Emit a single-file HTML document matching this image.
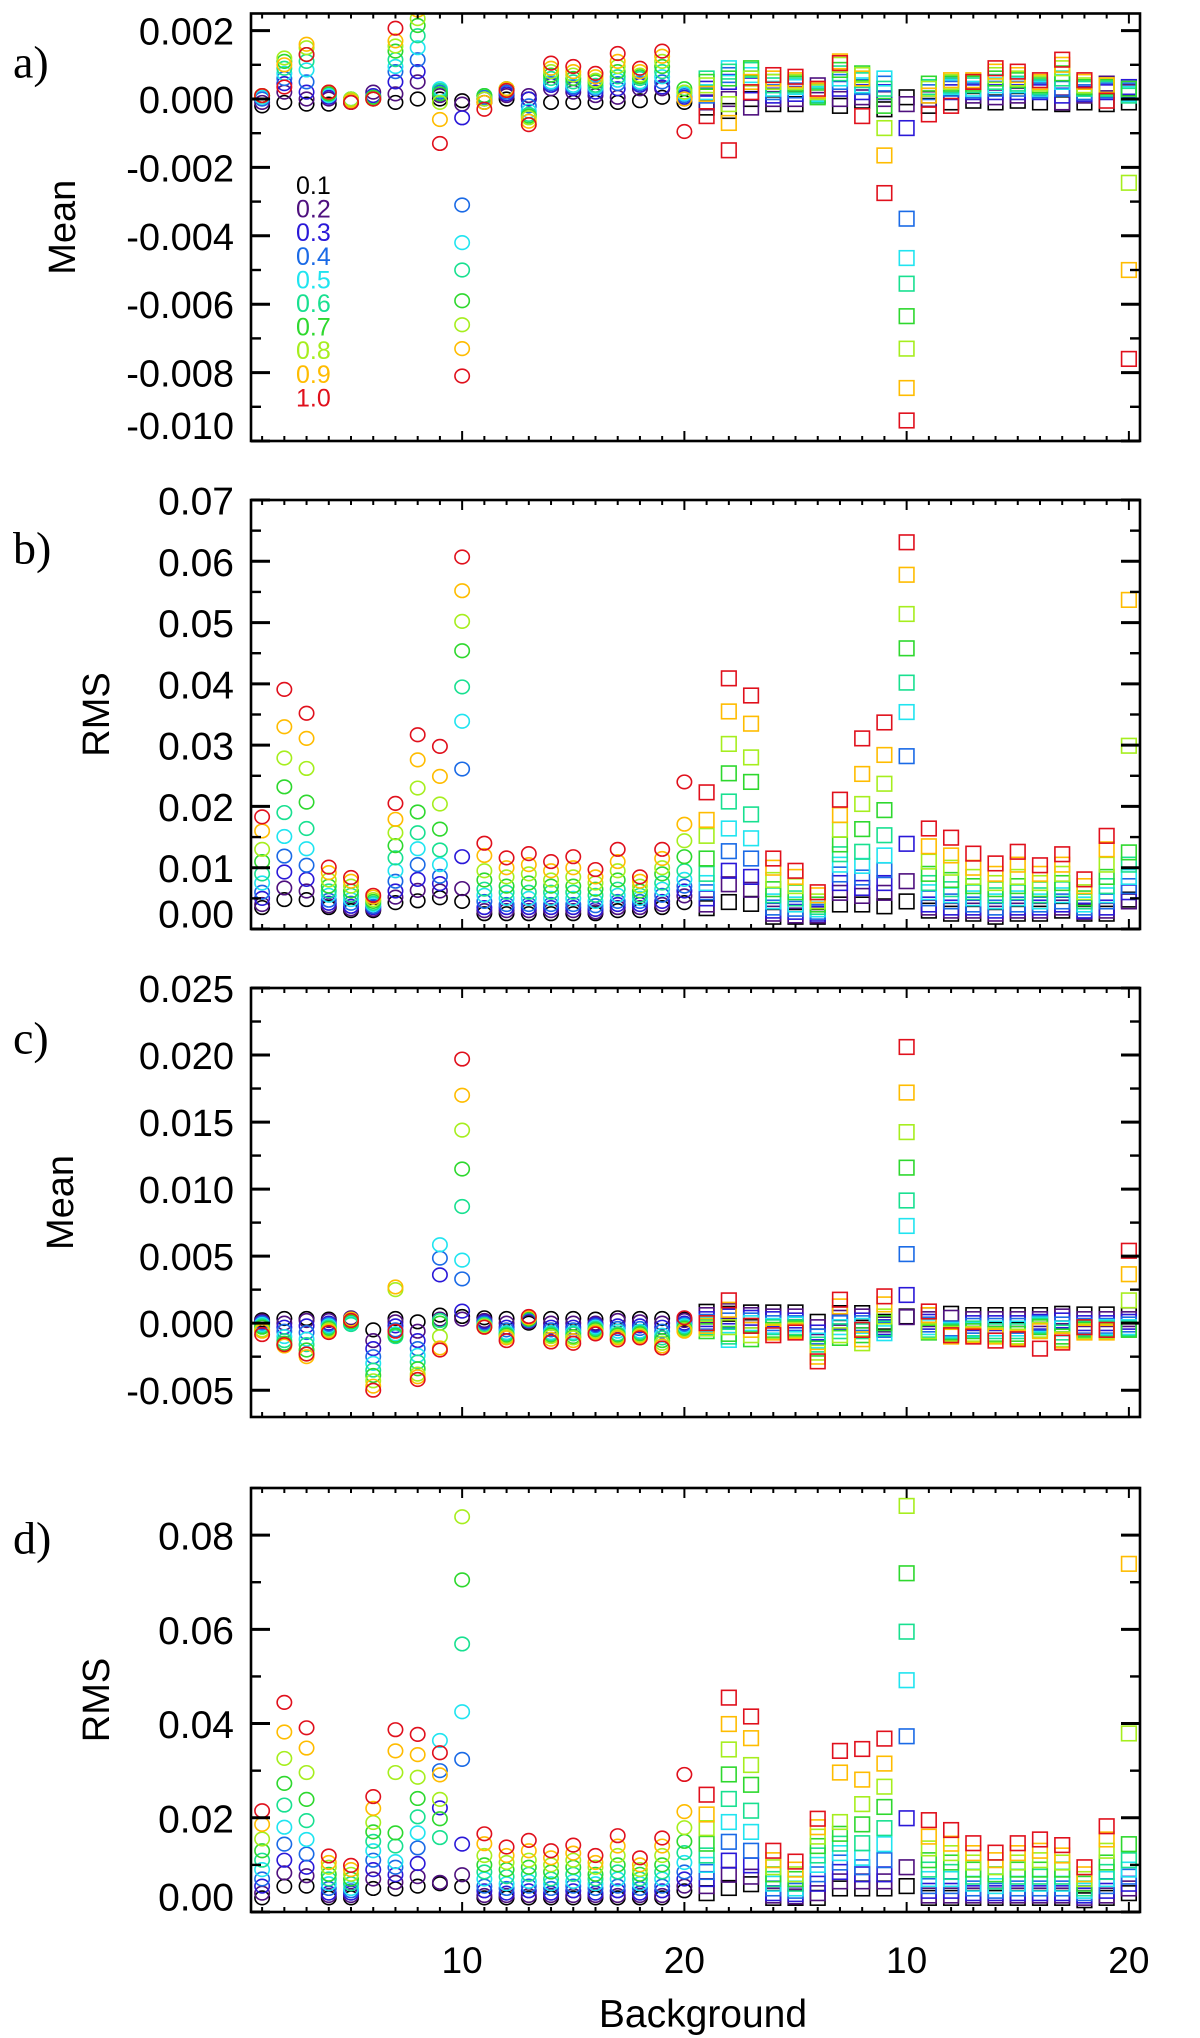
<!DOCTYPE html>
<html><head><meta charset="utf-8"><style>
html,body{margin:0;padding:0;background:#fff;}
svg{display:block;}
text{font-family:"Liberation Sans",Arial,sans-serif;}
.serif{font-family:"Liberation Serif","Times New Roman",serif;}
</style></head><body>
<svg id="chart" width="1200" height="2038" viewBox="0 0 1200 2038" xmlns="http://www.w3.org/2000/svg"></svg>
<script>
// ---- data ----
const levels = ["0.1","0.2","0.3","0.4","0.5","0.6","0.7","0.8","0.9","1.0"];
const levelColors = ["#000000","#4e107e","#2a18d8","#1a6ae6","#20e4f0","#18e090","#2ed82e","#a6ee1e","#ffbc00","#e0101c"];
const xTickLabels = ["10","20","10","20"];
const xTickValues = [10,20,30,40];
// panel a: Mean (units 0.001), rows = x index 1..40, cols = levels
const meanA = [
[-0.2,-0.1,0,0,0.05,0.1,0.1,0.1,0.1,0.1],
[-0.1,0.2,0.45,0.6,0.75,0.9,1.1,1.2,1.0,0.35],
[-0.15,0,0.2,0.5,0.85,1.1,1.3,1.5,1.6,1.3],
[-0.15,0,0.05,0.1,0.1,0.15,0.15,0.2,0.2,0.2],
[-0.1,-0.1,-0.05,0,0,-0.05,0,0,-0.05,-0.1],
[0,0.2,0.1,0.05,0,0.05,0.05,0,0,0],
[-0.1,0.15,0.5,0.8,0.95,1.15,1.4,1.55,1.7,2.07],
[0,0.5,0.8,1.15,1.5,1.85,2.15,2.35,2.6,2.9],
[0,0.1,0.15,0.2,0.3,0.25,0.15,-0.1,-0.6,-1.3],
[-0.05,-0.15,-0.55,-3.1,-4.2,-5.0,-5.9,-6.6,-7.3,-8.1],
[-0.1,0,0,0.05,0.1,0.1,0.1,0,-0.1,-0.3],
[0,0.1,0.15,0.2,0.25,0.3,0.3,0.3,0.3,0.25],
[0,0.1,0,-0.2,-0.35,-0.45,-0.5,-0.55,-0.65,-0.75],
[-0.1,0.3,0.4,0.45,0.5,0.6,0.7,0.8,0.9,1.05],
[-0.1,0.2,0.3,0.35,0.4,0.5,0.6,0.7,0.8,0.95],
[-0.1,0.1,0.2,0.3,0.35,0.4,0.5,0.55,0.65,0.75],
[-0.1,0.05,0.3,0.45,0.55,0.65,0.8,0.95,1.1,1.33],
[-0.05,0.3,0.4,0.45,0.5,0.6,0.65,0.7,0.8,0.9],
[0.05,0.3,0.35,0.5,0.65,0.8,0.95,1.1,1.25,1.4],
[-0.1,0,0.05,0.1,0.15,0.2,0.3,0.2,0,-0.95],
[-0.25,-0.1,0.3,0.1,0.2,0.6,0.5,0.4,0.15,-0.5],
[-0.35,0.0,0.5,0.7,0.9,0.8,0.6,-0.15,-0.7,-1.5],
[0,-0.25,0.4,0.6,0.7,0.85,0.9,0.6,0.5,0.2],
[-0.15,0,0.1,0.2,0.3,0.4,0.5,0.5,0.6,0.7],
[-0.15,0,0.15,0.25,0.35,0.4,0.45,0.5,0.55,0.65],
[0.1,0.4,0.25,0.2,0.15,0.1,0.05,0.2,0.25,0.3],
[-0.2,0,0.3,0.5,0.6,0.75,0.85,1.0,1.1,1.05],
[-0.05,0.05,0.2,0.35,0.4,0.55,0.75,0.7,0.6,-0.5],
[-0.3,0,0.2,0.45,0.6,0.3,-0.2,-0.85,-1.65,-2.75],
[0.05,-0.15,-0.85,-3.5,-4.65,-5.4,-6.35,-7.3,-8.45,-9.4],
[-0.2,0,0.1,0.2,0.3,0.35,0.45,0.3,0.1,-0.45],
[-0.1,0.4,0.2,0.3,0.35,0.4,0.45,0.5,0.55,-0.2],
[-0.05,0.1,0.2,0.25,0.3,0.4,0.45,0.5,0.55,0.5],
[-0.1,0.05,0.2,0.3,0.4,0.5,0.6,0.7,0.8,0.9],
[-0.05,0.1,0.2,0.3,0.4,0.45,0.55,0.6,0.7,0.8],
[-0.1,0.3,0.2,0.25,0.3,0.35,0.4,0.45,0.5,0.55],
[-0.15,-0.1,0.1,0.3,0.5,0.6,0.75,0.9,1.0,1.15],
[-0.1,0.1,0.15,0.2,0.3,0.3,0.35,0.4,0.5,0.55],
[-0.15,0.45,0.2,0.25,0.3,0.3,0.35,0.4,0.4,-0.05],
[-0.1,0.2,0.35,0.25,0.15,0.1,0.3,-2.45,-5.0,-7.6]
];
// panel b: RMS (units 0.01)
const rmsB = [
[0.35,0.4,0.5,0.6,0.75,0.9,1.1,1.3,1.6,1.83],
[0.48,0.67,0.93,1.19,1.51,1.9,2.32,2.79,3.3,3.91],
[0.48,0.62,0.81,1.04,1.31,1.64,2.07,2.62,3.11,3.52],
[0.35,0.38,0.42,0.47,0.55,0.62,0.7,0.8,0.92,1.01],
[0.3,0.33,0.37,0.42,0.48,0.55,0.62,0.7,0.78,0.84],
[0.3,0.32,0.35,0.37,0.4,0.42,0.45,0.48,0.52,0.55],
[0.43,0.52,0.62,0.78,0.95,1.16,1.36,1.57,1.79,2.05],
[0.46,0.63,0.81,1.05,1.31,1.57,1.91,2.3,2.76,3.17],
[0.51,0.62,0.74,0.86,1.05,1.29,1.63,2.04,2.49,2.98],
[0.45,0.66,1.18,2.61,3.39,3.95,4.54,5.02,5.52,6.07],
[0.25,0.3,0.35,0.45,0.55,0.65,0.8,0.95,1.2,1.4],
[0.25,0.3,0.35,0.4,0.5,0.6,0.7,0.85,1.0,1.16],
[0.25,0.3,0.35,0.4,0.5,0.6,0.75,0.9,1.05,1.23],
[0.25,0.3,0.35,0.4,0.5,0.6,0.7,0.8,0.95,1.1],
[0.25,0.3,0.35,0.4,0.5,0.6,0.7,0.85,1.0,1.18],
[0.25,0.28,0.32,0.38,0.45,0.55,0.65,0.75,0.85,0.97],
[0.3,0.35,0.4,0.45,0.55,0.65,0.8,0.95,1.1,1.3],
[0.3,0.35,0.4,0.45,0.5,0.55,0.62,0.7,0.78,0.85],
[0.35,0.4,0.45,0.55,0.65,0.75,0.9,1.0,1.15,1.3],
[0.43,0.54,0.62,0.7,0.81,0.95,1.18,1.44,1.71,2.4],
[0.34,0.4,0.5,0.6,0.75,0.9,1.15,1.52,1.78,2.23],
[0.44,0.73,0.95,1.27,1.64,2.08,2.54,3.02,3.55,4.09],
[0.41,0.64,0.85,1.15,1.48,1.87,2.4,2.8,3.35,3.81],
[0.2,0.25,0.3,0.35,0.45,0.55,0.65,0.8,1.0,1.15],
[0.2,0.22,0.28,0.33,0.4,0.5,0.6,0.7,0.85,0.95],
[0.2,0.22,0.25,0.28,0.32,0.36,0.4,0.45,0.55,0.6],
[0.4,0.59,0.75,0.89,1.05,1.22,1.38,1.62,1.86,2.11],
[0.4,0.54,0.67,0.84,1.03,1.26,1.63,2.04,2.53,3.11],
[0.37,0.59,0.75,0.96,1.2,1.53,1.94,2.37,2.84,3.37],
[0.45,0.78,1.39,2.82,3.54,4.02,4.58,5.14,5.78,6.31],
[0.3,0.35,0.4,0.5,0.6,0.75,0.9,1.1,1.35,1.64],
[0.25,0.3,0.35,0.45,0.55,0.65,0.8,1.0,1.2,1.49],
[0.25,0.3,0.35,0.4,0.5,0.6,0.7,0.85,1.0,1.23],
[0.2,0.25,0.3,0.35,0.45,0.55,0.65,0.75,0.9,1.07],
[0.25,0.3,0.35,0.4,0.5,0.6,0.7,0.85,1.05,1.26],
[0.25,0.3,0.35,0.4,0.45,0.55,0.65,0.75,0.9,1.04],
[0.3,0.35,0.4,0.45,0.55,0.65,0.75,0.9,1.05,1.22],
[0.25,0.28,0.3,0.35,0.4,0.45,0.5,0.6,0.7,0.81],
[0.25,0.3,0.35,0.45,0.55,0.7,0.85,1.05,1.3,1.52],
[0.48,0.45,0.6,0.7,0.85,1.05,1.25,2.99,5.37,7.6]
];
// panel c: Mean (units 0.001)
const meanC = [
[0.25,0.15,0.05,0,-0.1,-0.2,-0.3,-0.5,-0.6,-0.85],
[0.35,0,-0.3,-0.6,-1.0,-1.3,-1.5,-1.6,-1.7,-1.6],
[0.35,0.2,-0.2,-0.7,-1.2,-1.6,-2.0,-2.3,-2.5,-2.3],
[0.3,0.2,0,-0.1,-0.2,-0.3,-0.4,-0.5,-0.6,-0.7],
[0.3,0.4,0.3,0.1,0,-0.1,0.1,0.2,0.3,0.2],
[-0.5,-1.3,-1.9,-2.5,-3.0,-3.5,-3.9,-4.3,-4.7,-5.0],
[0.35,0.1,-0.2,-0.5,-0.8,-1.0,-0.9,2.5,2.7,-0.6],
[0.1,-0.6,-1.3,-1.9,-2.4,-2.9,-3.4,-3.8,-4.0,-4.2],
[0.6,0.3,3.6,4.85,5.85,0.2,0,-1.0,-1.85,-2.0],
[0.5,0.3,0.9,3.3,4.7,8.7,11.5,14.4,17.0,19.7],
[0.4,0.2,0.1,0,-0.1,-0.1,-0.2,-0.2,-0.3,-0.3],
[0.35,0,-0.3,-0.5,-0.7,-0.8,-0.9,-1.0,-1.1,-1.3],
[0,0.1,0.2,0.2,0.3,0.3,0.3,0.4,0.4,0.5],
[0.35,0,-0.3,-0.5,-0.7,-0.8,-0.9,-1.0,-1.2,-1.4],
[0.35,0,-0.3,-0.5,-0.7,-0.8,-1.0,-1.1,-1.3,-1.5],
[0.3,0,-0.1,-0.2,-0.3,-0.4,-0.5,-0.6,-0.7,-0.8],
[0.4,0.2,-0.2,-0.4,-0.6,-0.8,-0.9,-1.0,-1.1,-1.25],
[0.35,0.1,-0.2,-0.4,-0.6,-0.7,-0.8,-0.9,-1.0,-1.1],
[0.35,0,-0.3,-0.6,-0.9,-1.1,-1.3,-1.5,-1.7,-1.85],
[0.3,0.2,0,-0.1,-0.2,-0.3,-0.4,-0.5,-0.6,0.4],
[0.85,0.6,0.3,0.1,-0.1,-0.3,-0.6,-0.4,-0.2,0.0],
[0.7,0.9,0.5,0.2,-1.25,-1.0,-0.8,-0.3,1.0,1.7],
[0.8,0.6,0.4,0.2,0,-0.2,-1.2,-0.9,-0.5,-0.2],
[0.8,0.5,0.3,0,-0.2,-0.3,-0.5,-0.6,-0.7,-0.9],
[0.8,0.5,0.2,0,-0.1,-0.3,-0.4,-0.5,-0.6,-0.7],
[0.1,-0.3,-0.7,-1.0,-1.3,-1.6,-1.9,-2.2,-2.5,-2.85],
[0.75,0.4,0.1,0,-0.3,-0.6,-1.1,-0.9,1.25,1.75],
[0.75,0.5,0.2,0,-0.2,-0.6,-0.9,-1.5,-1.2,-0.5],
[0.1,-0.1,-0.3,-0.5,-0.75,-0.4,0.0,0.5,1.4,2.0],
[0.5,0.45,2.1,5.15,7.25,9.15,11.6,14.25,17.2,20.6],
[0.6,0.3,0.1,-0.1,-0.3,-0.5,-0.7,-0.6,0.6,0.87],
[0.7,0.4,-0.7,-0.4,-0.5,-0.6,-0.7,-0.8,-1.0,-0.9],
[0.6,0.3,0,-0.2,-0.5,-0.4,-0.6,-0.8,-0.9,-1.0],
[0.6,0.3,0,-0.2,-0.4,-0.6,-0.8,-0.9,-1.0,-1.3],
[0.6,0.3,0,-0.2,-0.4,-0.6,-0.8,-1.0,-1.1,-1.2],
[0.6,0.3,0.1,0,-0.1,-0.2,-0.3,-0.5,-0.6,-1.9],
[0.7,0.5,0.2,-0.1,-0.4,-0.7,-1.0,-1.2,-1.3,-1.45],
[0.65,0.3,0,-0.2,-0.3,-0.4,-0.5,-0.6,-0.7,-0.3],
[0.65,0.3,0,-0.2,-0.3,-0.4,-0.5,-0.6,-0.7,-0.5],
[0.6,0.3,0.1,-0.1,-0.3,-0.4,-0.5,1.7,3.65,5.4]
];
// panel d: RMS (units 0.01)
const rmsD = [
[0.3,0.4,0.55,0.7,0.9,1.1,1.3,1.55,1.86,2.15],
[0.55,0.83,1.1,1.44,1.8,2.27,2.73,3.26,3.82,4.45],
[0.55,0.77,0.95,1.23,1.54,1.94,2.39,2.96,3.48,3.91],
[0.3,0.35,0.4,0.5,0.6,0.7,0.8,0.95,1.05,1.19],
[0.3,0.35,0.4,0.45,0.5,0.6,0.7,0.8,0.9,0.99],
[0.5,0.7,0.9,1.1,1.3,1.5,1.7,1.9,2.2,2.45],
[0.49,0.63,0.79,0.95,1.07,1.4,1.68,2.96,3.42,3.87],
[0.55,0.75,1.03,1.36,1.68,2.02,2.41,2.86,3.34,3.77],
[0.6,0.63,2.21,3.0,3.64,1.58,1.98,2.39,2.91,3.38],
[0.54,0.79,1.44,3.24,4.25,5.69,7.05,8.39,9.5,10.5],
[0.3,0.35,0.45,0.55,0.7,0.85,1.0,1.2,1.45,1.66],
[0.3,0.35,0.4,0.5,0.6,0.75,0.9,1.05,1.2,1.38],
[0.3,0.35,0.45,0.55,0.65,0.8,0.95,1.1,1.3,1.52],
[0.3,0.35,0.4,0.5,0.6,0.7,0.85,1.0,1.15,1.3],
[0.3,0.35,0.45,0.55,0.65,0.8,0.95,1.1,1.25,1.42],
[0.3,0.35,0.4,0.5,0.6,0.7,0.8,0.95,1.05,1.2],
[0.3,0.35,0.45,0.55,0.7,0.85,1.0,1.2,1.4,1.62],
[0.3,0.35,0.4,0.5,0.6,0.7,0.8,0.9,1.0,1.15],
[0.3,0.35,0.45,0.55,0.7,0.85,1.0,1.2,1.4,1.57],
[0.45,0.55,0.7,0.85,1.05,1.26,1.5,1.79,2.13,2.92],
[0.4,0.55,0.7,0.85,1.0,1.2,1.45,1.78,2.07,2.49],
[0.51,0.79,1.09,1.49,1.91,2.4,2.92,3.45,3.99,4.55],
[0.59,0.75,0.99,1.3,1.7,2.15,2.7,3.12,3.69,4.15],
[0.3,0.35,0.4,0.5,0.6,0.7,0.8,0.95,1.1,1.3],
[0.3,0.33,0.38,0.45,0.5,0.6,0.7,0.8,0.9,1.07],
[0.3,0.4,0.6,0.8,1.0,1.2,1.4,1.6,1.8,1.98],
[0.5,0.65,0.85,1.05,1.25,1.45,1.66,1.91,2.96,3.42],
[0.5,0.65,0.8,0.95,1.15,1.46,1.86,2.29,2.81,3.46],
[0.5,0.65,0.8,1.1,1.44,1.78,2.23,2.66,3.15,3.68],
[0.55,0.95,1.99,3.73,4.92,5.95,7.19,8.62,9.5,10.5],
[0.3,0.35,0.45,0.55,0.7,0.9,1.1,1.35,1.6,1.95],
[0.3,0.35,0.45,0.55,0.7,0.85,1.05,1.25,1.45,1.74],
[0.3,0.35,0.4,0.5,0.6,0.75,0.9,1.05,1.25,1.46],
[0.3,0.35,0.4,0.45,0.55,0.65,0.8,0.95,1.1,1.26],
[0.3,0.35,0.4,0.5,0.6,0.75,0.9,1.05,1.25,1.46],
[0.3,0.35,0.4,0.5,0.6,0.75,0.9,1.1,1.3,1.54],
[0.3,0.35,0.4,0.5,0.6,0.75,0.9,1.05,1.2,1.42],
[0.25,0.3,0.35,0.4,0.45,0.5,0.6,0.7,0.8,0.95],
[0.3,0.35,0.45,0.55,0.7,0.85,1.05,1.3,1.54,1.82],
[0.4,0.5,0.6,0.75,0.9,1.1,1.44,3.79,7.39,10.5]
];
const yTicksA = ["0.002","0.000","-0.002","-0.004","-0.006","-0.008","-0.010"];
const yTicksB = ["0.07","0.06","0.05","0.04","0.03","0.02","0.01","0.00"];
const yTicksC = ["0.025","0.020","0.015","0.010","0.005","0.000","-0.005"];
const yTicksD = ["0.08","0.06","0.04","0.02","0.00"];

// ---- layout ----
const NS = "http://www.w3.org/2000/svg";
const svg = document.getElementById("chart");
const LEFT = 251, RIGHT = 1140, XMIN = 0.5, XMAX = 40.5;
function xScale(v){ return LEFT + (v - XMIN) / (XMAX - XMIN) * (RIGHT - LEFT); }
function mk(tag, attrs, parent){
  const e = document.createElementNS(NS, tag);
  for (const k in attrs) e.setAttribute(k, attrs[k]);
  (parent || svg).appendChild(e);
  return e;
}
const panels = [
  {id:"a", top:13.5, bottom:441, ymin:-10, ymax:2.5, unit:0.001, data:meanA, ticks:yTicksA, major:2, minor:1, ylab:"Mean", ylabX:63, labY:62},
  {id:"b", top:500, bottom:929, ymin:0, ymax:7, unit:0.01, data:rmsB, ticks:yTicksB, major:1, minor:0.5, ylab:"RMS", ylabX:97, labY:548},
  {id:"c", top:988, bottom:1417, ymin:-7, ymax:25, unit:0.001, data:meanC, ticks:yTicksC, major:5, minor:2.5, ylab:"Mean", ylabX:61, labY:1038},
  {id:"d", top:1488, bottom:1912, ymin:0, ymax:9, unit:0.01, data:rmsD, ticks:yTicksD, major:2, minor:1, ylab:"RMS", ylabX:97, labY:1538}
];

panels.forEach(function(p){
  function yScale(v){ return p.bottom - (v - p.ymin) / (p.ymax - p.ymin) * (p.bottom - p.top); }
  const g = mk("g", {});
  
  
  const cp = mk("clipPath", {id:"clip-" + p.id}, g);
  mk("rect", {x:LEFT, y:p.top, width:RIGHT-LEFT, height:p.bottom-p.top}, cp);
  const mg = mk("g", {"clip-path":"url(#clip-" + p.id + ")"}, g);
  
  
  p.data.forEach(function(row, i){
    const xi = i + 1;
    const cx = xScale(xi);
    row.forEach(function(v, L){
      const cy = yScale(v);
      let m;
      if (xi <= 20) {
        m = mk("ellipse", {cx:cx, cy:cy, rx:7.2, ry:6.8, fill:"none", stroke:levelColors[L], "stroke-width":1.6}, mg);
      } else {
        m = mk("rect", {x:cx-7.3, y:cy-7.3, width:14.6, height:14.6, fill:"none", stroke:levelColors[L], "stroke-width":1.6}, mg);
      }
      
      
    });
  });
  const fr = mk("rect", {x:LEFT, y:p.top, width:RIGHT-LEFT, height:p.bottom-p.top, fill:"none", stroke:"#000", "stroke-width":2.6}, g);
  
  
  for (let k = 1; k <= 40; k++) {
    const x = xScale(k);
    const len = (k % 10 === 0) ? 10 : 5;
    mk("line", {x1:x, x2:x, y1:p.bottom, y2:p.bottom-len, stroke:"#000", "stroke-width":2}, g);
    mk("line", {x1:x, x2:x, y1:p.top, y2:p.top+len, stroke:"#000", "stroke-width":2}, g);
  }
  for (let v = Math.ceil(p.ymin / p.minor) * p.minor; v <= p.ymax + 1e-9; v += p.minor) {
    const y = yScale(v);
    const isMaj = Math.abs(v / p.major - Math.round(v / p.major)) < 1e-6;
    const len = isMaj ? 19 : 10;
    mk("line", {x1:LEFT, x2:LEFT+len, y1:y, y2:y, stroke:"#000", "stroke-width":isMaj?3:2.4}, g);
    mk("line", {x1:RIGHT, x2:RIGHT-len, y1:y, y2:y, stroke:"#000", "stroke-width":isMaj?3:2.4}, g);
  }
  p.ticks.forEach(function(t){
    const v = parseFloat(t) / p.unit;
    let y = yScale(v) + 2;
    if (y > p.bottom - 14) y = p.bottom - 14;
    const tx = mk("text", {x:234, y:y, "text-anchor":"end", "dominant-baseline":"central", "font-size":p.id==="b"||p.id==="d"?39:38, fill:"#000"}, g);
    tx.textContent = t;
    
    
  });
  const yc = (p.top + p.bottom) / 2;
  const yt = mk("text", {x:p.ylabX, y:yc, transform:"rotate(-90 " + p.ylabX + " " + yc + ")", "text-anchor":"middle", "dominant-baseline":"central", "font-size":38, fill:"#000"}, g);
  yt.textContent = p.ylab;
  
  
  const pl = mk("text", {x:13, y:p.labY, "dominant-baseline":"central", "font-size":46, class:"serif", fill:"#000"}, g);
  pl.textContent = p.id + ")";
  
  
  if (p.id === "d") {
    xTickValues.forEach(function(v, i){
      const xl = mk("text", {x:xScale(v), y:1973, "text-anchor":"middle", "font-size":37, fill:"#000"}, g);
      xl.textContent = xTickLabels[i];
      
      
    });
    const xt = mk("text", {x:703, y:2027, "text-anchor":"middle", "font-size":39, fill:"#000"}, g);
    xt.textContent = "Background";
    
    
  }
});

const lg = mk("g", {});


levels.forEach(function(l, i){
  const t = mk("text", {x:296, y:186 + i * 23.6, "dominant-baseline":"central", "font-size":25, fill:levelColors[i], style:"fill:" + levelColors[i]}, lg);
  t.textContent = l;
  
  
});
</script>
</body></html>
